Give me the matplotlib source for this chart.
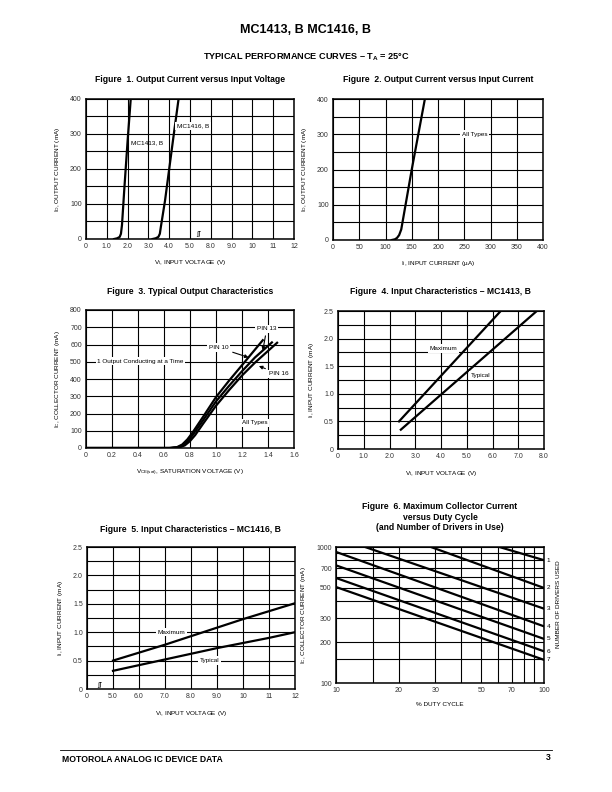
import numpy as np
import matplotlib
matplotlib.use("Agg")
import matplotlib.pyplot as plt
from matplotlib.ticker import FixedLocator, NullFormatter

plt.rcParams['font.family'] = ['Liberation Sans', 'DejaVu Sans']
plt.rcParams['mathtext.fontset'] = 'custom'
plt.rcParams['mathtext.rm'] = 'Liberation Sans'
plt.rcParams['mathtext.it'] = 'Liberation Sans'
plt.rcParams['mathtext.bf'] = 'Liberation Sans:bold'
plt.rcParams['mathtext.default'] = 'regular'

# ---- Figure 1: output current vs input voltage (V) ----
f1_ticks = ['0', '1.0', '2.0', '3.0', '4.0', '5.0', '8.0', '9.0', '10', '11', '12']
mc1413_v = [1.35, 1.5, 1.62, 1.68, 1.73, 1.85, 2.0, 2.15]
mc1413_i = [0, 2, 6, 15, 40, 150, 280, 400]
mc1416_v = [3.2, 3.35, 3.48, 3.55, 3.6, 3.8, 4.0, 4.2, 4.45]
mc1416_i = [0, 2, 6, 15, 35, 110, 200, 290, 400]

# ---- Figure 2: output current vs input current (uA) ----
f2_ii = [112, 118, 122, 126, 130, 150, 175]
f2_io = [0, 2, 6, 14, 30, 200, 400]

# ---- Figure 3: typical output characteristics ----
pin10_v = [0, 0.64, 0.70, 0.74, 0.78, 0.82, 0.9, 1.0, 1.1, 1.2, 1.36]
pin10_i = [0, 0, 5, 20, 50, 90, 180, 295, 390, 480, 625]
pin13_v = [0, 0.65, 0.71, 0.75, 0.79, 0.83, 0.9, 1.0, 1.1, 1.2, 1.3, 1.43]
pin13_i = [0, 0, 5, 18, 45, 85, 160, 270, 360, 445, 525, 612]
pin16_v = [0, 0.66, 0.72, 0.76, 0.8, 0.84, 0.9, 1.0, 1.1, 1.2, 1.3, 1.47]
pin16_i = [0, 0, 4, 15, 40, 75, 140, 245, 335, 420, 495, 610]

# ---- Figure 4: input characteristics MC1413 ----
f4_max_v = [2.37, 6.32]
f4_max_i = [0.5, 2.5]
f4_typ_v = [2.44, 7.72]
f4_typ_i = [0.35, 2.5]

# ---- Figure 5: input characteristics MC1416 ----
f5_ticks = ['0', '5.0', '6.0', '7.0', '8.0', '9.0', '10', '11', '12']
f5_v = [5, 6, 7, 8, 9, 10, 11, 12]
f5_max = [0.5, 0.64, 0.78, 0.93, 1.08, 1.23, 1.37, 1.51]
f5_typ = [0.32, 0.42, 0.52, 0.62, 0.72, 0.81, 0.9, 1.0]

# ---- Figure 6: max collector current vs duty cycle ----
drivers = ['1', '2', '3', '4', '5', '6', '7']
drv_x0 = [61, 28.6, 13.8, 10, 10, 10, 10]
drv_y0 = [1000, 1000, 1000, 920, 733, 592, 508]
drv_y100 = [800, 500, 352, 261, 211, 171, 148]

LW = 1.6
GRID = 0.8
TICK = 5
LAB = 4.6
TITLE = 6.2


def f1pos(v):
    v = np.asarray(v, float)
    return np.where(v <= 5, v, v - 2)


def f5pos(v):
    return np.asarray(v, float) - 4


def style(ax):
    ax.grid(True, which='both', color='black', lw=GRID)
    ax.set_axisbelow(True)
    for s in ax.spines.values():
        s.set_linewidth(1.1)
    ax.tick_params(which='both', length=0, labelsize=TICK, pad=3, colors='#333333')


def boxed(ax, x, y, s, **kw):
    ax.text(x, y, s, fontsize=LAB, ha='center', va='center',
            bbox=dict(fc='white', ec='none', pad=1.2), **kw)


fig = plt.figure(figsize=(6.12, 7.92), dpi=100)
W, H = 612.0, 792.0


def add_ax(x0, y0, x1, y1):
    return fig.add_axes([x0 / W, 1 - y1 / H, (x1 - x0) / W, (y1 - y0) / H])


fig.text(306 / W, 1 - 30 / H, 'MC1413, B MC1416, B', ha='center', va='center',
         fontsize=9, fontweight='bold')
fig.text(306 / W, 1 - 57 / H, r'TYPICAL PERFORMANCE CURVES – $\mathbf{T_A}$ = 25°C',
         ha='center', va='center', fontsize=6.6, fontweight='bold')

# Figure 1
ax = add_ax(86, 99, 294, 239)
ax.plot(f1pos(mc1413_v), mc1413_i, color='black', lw=LW)
ax.plot(f1pos(mc1416_v), mc1416_i, color='black', lw=LW)
ax.set_xlim(0, 10)
ax.set_ylim(0, 400)
ax.set_xticks(range(11))
ax.set_xticklabels(f1_ticks)
ax.set_yticks(range(0, 401, 100))
ax.yaxis.set_minor_locator(FixedLocator(range(50, 400, 100)))
style(ax)
ax.text(2.95, 275, 'MC1413, B', fontsize=LAB, ha='center', va='center')
boxed(ax, 5.15, 323, 'MC1416, B')
ax.text(5.42, 5, 'ʃʃ', fontsize=5, ha='center', va='bottom', family='DejaVu Sans')
ax.set_xlabel('V$_I$, INPUT VOLTAGE (V)', fontsize=LAB, labelpad=6)
ax.set_ylabel('I$_O$, OUTPUT CURRENT (mA)', fontsize=LAB, labelpad=6)
fig.text(190 / W, 1 - 80 / H, 'Figure  1. Output Current versus Input Voltage',
         ha='center', va='center', fontsize=TITLE, fontweight='bold')

# Figure 2
ax = add_ax(333, 99, 543, 240)
ax.plot(f2_ii, f2_io, color='black', lw=LW)
ax.set_xlim(0, 400)
ax.set_ylim(0, 400)
ax.set_xticks(range(0, 401, 50))
ax.set_yticks(range(0, 401, 100))
ax.yaxis.set_minor_locator(FixedLocator(range(50, 400, 100)))
style(ax)
boxed(ax, 270, 300, 'All Types')
ax.set_xlabel('I$_I$, INPUT CURRENT (µA)', fontsize=LAB, labelpad=6)
ax.set_ylabel('I$_O$, OUTPUT CURRENT (mA)', fontsize=LAB, labelpad=6)
fig.text(438 / W, 1 - 80 / H, 'Figure  2. Output Current versus Input Current',
         ha='center', va='center', fontsize=TITLE, fontweight='bold')

# Figure 3
ax = add_ax(86, 310, 294, 448)
ax.plot(pin10_v, pin10_i, color='black', lw=LW)
ax.plot(pin13_v, pin13_i, color='black', lw=LW)
ax.plot(pin16_v, pin16_i, color='black', lw=LW)
ax.set_xlim(0, 1.6)
ax.set_ylim(0, 800)
ax.set_xticks(np.arange(0, 1.61, 0.2))
ax.set_xticklabels(['0', '0.2', '0.4', '0.6', '0.8', '1.0', '1.2', '1.4', '1.6'])
ax.set_yticks(range(0, 801, 100))
style(ax)
arrow = dict(arrowstyle='-|>', color='black', lw=0.8, mutation_scale=5,
             shrinkA=2, shrinkB=0)
ax.annotate('PIN 13', xy=(1.36, 565), xytext=(1.39, 690), fontsize=LAB,
            ha='center', va='center', arrowprops=arrow,
            bbox=dict(fc='white', ec='none', pad=1.2))
ax.annotate('PIN 10', xy=(1.25, 525), xytext=(1.02, 582), fontsize=LAB,
            ha='center', va='center', arrowprops=arrow,
            bbox=dict(fc='white', ec='none', pad=1.2))
ax.annotate('PIN 16', xy=(1.33, 475), xytext=(1.48, 430), fontsize=LAB,
            ha='center', va='center', arrowprops=arrow,
            bbox=dict(fc='white', ec='none', pad=1.2))
boxed(ax, 0.42, 504, '1 Output Conducting at a Time')
boxed(ax, 1.3, 145, 'All Types')
ax.set_xlabel('V$_{CE(sat)}$, SATURATION VOLTAGE (V)', fontsize=LAB, labelpad=6)
ax.set_ylabel('I$_C$, COLLECTOR CURRENT (mA)', fontsize=LAB, labelpad=6)
fig.text(190 / W, 1 - 291 / H, 'Figure  3. Typical Output Characteristics',
         ha='center', va='center', fontsize=TITLE, fontweight='bold')

# Figure 4
ax = add_ax(338, 311, 544, 449)
ax.plot(f4_max_v, f4_max_i, color='black', lw=LW)
ax.plot(f4_typ_v, f4_typ_i, color='black', lw=LW)
ax.set_xlim(0, 8)
ax.set_ylim(0, 2.5)
ax.set_xticks(range(9))
ax.set_xticklabels(['0', '1.0', '2.0', '3.0', '4.0', '5.0', '6.0', '7.0', '8.0'])
ax.set_yticks(np.arange(0, 2.51, 0.5))
ax.set_yticklabels(['0', '0.5', '1.0', '1.5', '2.0', '2.5'])
ax.yaxis.set_minor_locator(FixedLocator(np.arange(0.25, 2.5, 0.5)))
style(ax)
boxed(ax, 4.1, 1.82, 'Maximum')
boxed(ax, 5.55, 1.33, 'Typical')
ax.set_xlabel('V$_I$, INPUT VOLTAGE (V)', fontsize=LAB, labelpad=6)
ax.set_ylabel('I$_I$, INPUT CURRENT (mA)', fontsize=LAB, labelpad=6)
fig.text(440 / W, 1 - 291 / H, 'Figure  4. Input Characteristics – MC1413, B',
         ha='center', va='center', fontsize=TITLE, fontweight='bold')

# Figure 5
ax = add_ax(87, 547, 295, 689)
ax.plot(f5pos(f5_v), f5_max, color='black', lw=LW)
ax.plot(f5pos(f5_v), f5_typ, color='black', lw=LW)
ax.set_xlim(0, 8)
ax.set_ylim(0, 2.5)
ax.set_xticks(range(9))
ax.set_xticklabels(f5_ticks)
ax.set_yticks(np.arange(0, 2.51, 0.5))
ax.set_yticklabels(['0', '0.5', '1.0', '1.5', '2.0', '2.5'])
ax.yaxis.set_minor_locator(FixedLocator(np.arange(0.25, 2.5, 0.5)))
style(ax)
boxed(ax, f5pos(7.25), 1.0, 'Maximum')
boxed(ax, f5pos(8.7), 0.5, 'Typical')
ax.text(0.47, 0.01, 'ʃʃ', fontsize=5, ha='center', va='bottom', family='DejaVu Sans')
ax.set_xlabel('V$_I$, INPUT VOLTAGE (V)', fontsize=LAB, labelpad=6)
ax.set_ylabel('I$_I$, INPUT CURRENT (mA)', fontsize=LAB, labelpad=6)
fig.text(190 / W, 1 - 529 / H, 'Figure  5. Input Characteristics – MC1416, B',
         ha='center', va='center', fontsize=TITLE, fontweight='bold')

# Figure 6
ax = add_ax(336, 547, 544, 683)
for name, x0, y0, y1 in zip(drivers, drv_x0, drv_y0, drv_y100):
    ax.plot([x0, 100], [y0, y1], color='black', lw=LW)
    ax.text(1.022, y1, name, transform=ax.get_yaxis_transform(), fontsize=LAB,
            ha='center', va='center')
ax.set_xscale('log')
ax.set_yscale('log')
ax.set_xlim(10, 100)
ax.set_ylim(100, 1000)
ax.xaxis.set_major_locator(FixedLocator([10, 20, 30, 50, 70, 100]))
ax.xaxis.set_minor_locator(FixedLocator([15, 40, 60, 80, 90]))
ax.yaxis.set_major_locator(FixedLocator([100, 200, 300, 500, 700, 1000]))
ax.yaxis.set_minor_locator(FixedLocator([150, 400, 600, 800, 900]))
ax.set_xticklabels(['10', '20', '30', '50', '70', '100'])
ax.set_yticklabels(['100', '200', '300', '500', '700', '1000'])
ax.xaxis.set_minor_formatter(NullFormatter())
ax.yaxis.set_minor_formatter(NullFormatter())
style(ax)
ax.set_xlabel('% DUTY CYCLE', fontsize=LAB, labelpad=6)
ax.set_ylabel('I$_C$, COLLECTOR CURRENT (mA)', fontsize=LAB, labelpad=6)
ax.text(1.068, 0.58, 'NUMBER OF DRIVERS USED', transform=ax.transAxes, rotation=90,
        fontsize=LAB, ha='center', va='center')
fig.text(440 / W, 1 - 517 / H,
         'Figure  6. Maximum Collector Current\nversus Duty Cycle\n(and Number of Drivers in Use)',
         ha='center', va='center', fontsize=TITLE, fontweight='bold', linespacing=1.15)

# footer
fig.add_artist(plt.Line2D([60 / W, 552 / W], [1 - 750 / H, 1 - 750 / H],
                          color='black', lw=0.6))
fig.text(62 / W, 1 - 760 / H, 'MOTOROLA ANALOG IC DEVICE DATA', ha='left', va='center',
         fontsize=6.2, fontweight='bold')
fig.text(551 / W, 1 - 757 / H, '3', ha='right', va='center', fontsize=6.2, fontweight='bold')

fig.savefig('out.png', dpi=100)
